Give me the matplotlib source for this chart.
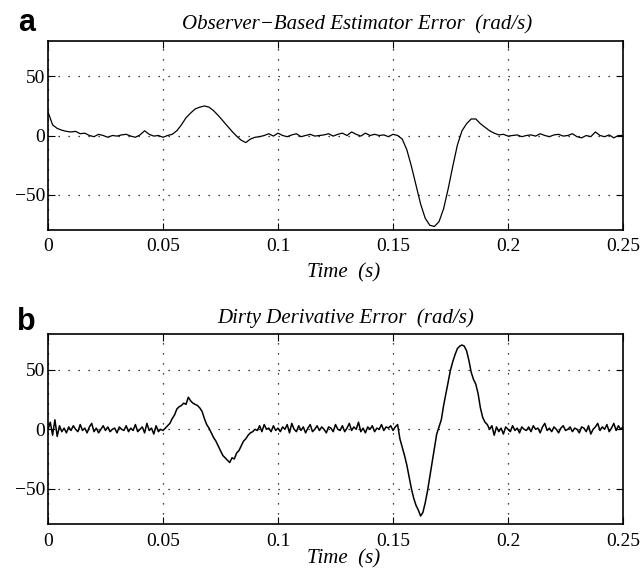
#!/usr/bin/env python3
"""
Estimator error comparison: observer-based estimator vs dirty derivative
"""
import numpy as np
import matplotlib
matplotlib.use('Agg')
import matplotlib.pyplot as plt

# Observer-based estimator error (rad/s), sampled every 2 ms from 0 to 0.25 s
obs_err = [
    20, 9, 6, 4.5, 3.5, 3, 3.5, 1.5, 2, 0,
    -1, 1, 0, -1.5, 0, -0.5, 0.5, 1, -0.5, -1.5,
    0.5, 4, 1, -0.5, 0, -1.5, 0, 1, 4, 9,
    15, 19, 22.5, 24, 25, 24, 21, 17, 12.5, 8,
    3.5, -0.5, -4, -6, -3, -1.5, -1, 0, 1.5, -0.5,
    2, 0, -1, 0.5, 1.5, -1, 0, 1, -0.5, 0,
    0.5, 1.5, -0.5, 1, 2, 0, 3, 1, -0.5, 2,
    0, 1, 0, 0.5, -1, 1, 0, -3, -12, -26,
    -42, -58, -70, -76, -77, -73, -62, -45, -26, -8,
    4, 10, 14, 14, 10, 7, 4, 2, 0.5, 1,
    -0.5, 0, 0.5, -1, 0, 0.5, -0.5, 1.5, 0, -1,
    0.5, 1, -0.5, 0, 1.5, -1, -2, 0, -1, 3,
    0, -1, 0.5, -2, 0, 0,
]

# Dirty derivative error (rad/s), sampled every 1 ms from 0 to 0.25 s
dirty_err = [
    0, 6, -5, 8, -6, 3, -2, 1, -3, 2,
    -1, 3, 0, -2, 4, -1, 1, -3, 2, 5,
    -2, 1, -3, 0, 3, -1, 2, -2, 0, 1,
    -3, 2, 0, -1, 3, -2, 1, -1, 4, -2,
    0, 2, -3, 5, -1, 1, -4, 3, -2, 0,
    -1, 1, 3, 5, 9, 12, 17, 19, 20, 22,
    21, 27, 24, 22, 21, 20, 18, 15, 9, 4,
    1, -3, -7, -10, -14, -18, -22, -24, -26, -28,
    -24, -25, -20, -18, -14, -10, -8, -5, -3, -2,
    0, -1, 3, -2, 4, 0, 1, -2, 3, -1,
    1, -2, 2, 0, 4, -3, 5, 0, -2, 3,
    -1, 2, -3, 1, 4, -2, 0, 3, -1, 2,
    0, -3, 2, 1, -2, 4, 0, -1, 3, -2,
    1, 5, -1, 2, 0, 6, -2, 1, -3, 2,
    0, 3, -2, 1, 0, 4, -1, 2, 1, 3,
    -1, 2, 4, -8, -15, -22, -30, -40, -50, -58,
    -64, -68, -73, -70, -62, -52, -40, -28, -16, -4,
    2, 8, 20, 30, 40, 50, 57, 63, 68, 70,
    71, 70, 66, 58, 48, 42, 38, 30, 18, 10,
    6, 4, 0, 3, -5, 2, -2, 1, -4, 2,
    0, -2, 3, -1, 1, -3, 2, 0, -1, 2,
    -2, 3, 0, 1, -3, 2, 5, -1, 1, -2,
    2, 0, -3, 1, 3, -1, 0, 2, -2, 1,
    0, -3, 2, 1, -2, 3, -4, 0, 2, 5,
    -1, 2, 0, 4, -2, 1, 5, -1, 3, 0,
    2,
]

t_obs = np.linspace(0, 0.25, len(obs_err))
t_dirty = np.linspace(0, 0.25, len(dirty_err))

x_ticks = [0, 0.05, 0.1, 0.15, 0.2, 0.25]
x_tick_labels = ['0', '0.05', '0.1', '0.15', '0.2', '0.25']
y_ticks = [-50, 0, 50]
y_tick_labels = ['\u221250', '0', '50']

titles = ['Observer\u2212Based Estimator Error  (rad/s)',
          'Dirty Derivative Error  (rad/s)']
panel_labels = ['a', 'b']

plt.rcParams['font.family'] = ['Liberation Serif', 'DejaVu Serif']

W, H = 641, 568
fig = plt.figure(figsize=(W / 100, H / 100), dpi=100)

# axes rectangles in pixels: left, top, right, bottom
rects_px = [(48, 41, 623, 230), (48, 334.3, 623, 524.3)]
title_pos = [(356.7, 29), (346, 323)]
xlabel_pos = [(344, 277), (344, 563.5)]
panel_pos = [(18, 31), (17, 330)]

series = [(t_obs, obs_err, 0.9), (t_dirty, dirty_err, 1.1)]

for i, (l, t, r, b) in enumerate(rects_px):
    ax = fig.add_axes([l / W, 1 - b / H, (r - l) / W, (b - t) / H])
    tt, yy, lw = series[i]
    ax.plot(tt, yy, color='k', linewidth=lw)

    ax.set_xlim(0, 0.25)
    ax.set_ylim(-80, 80)
    ax.set_xticks(x_ticks)
    ax.set_xticklabels(x_tick_labels)
    ax.set_yticks(y_ticks)
    ax.set_yticklabels(y_tick_labels)
    ax.tick_params(direction='in', length=5, width=0.8, top=True, right=True,
                   labelsize=14)
    ax.tick_params(axis='x', pad=6)
    ax.tick_params(axis='y', pad=2)
    ax.grid(True, color='k', linewidth=0.9, linestyle=(0, (1, 7)))
    for sp in ax.spines.values():
        sp.set_linewidth(1.2)

    tx, ty = title_pos[i]
    fig.text(tx / W, 1 - ty / H, titles[i], ha='center', va='baseline',
             fontsize=15, style='italic')
    lx, ly = xlabel_pos[i]
    fig.text(lx / W, 1 - ly / H, 'Time  (s)', ha='center', va='baseline',
             fontsize=15, style='italic')
    px, py = panel_pos[i]
    fig.text(px / W, 1 - py / H, panel_labels[i], ha='left', va='baseline',
             fontsize=22, fontweight='bold', family='Liberation Sans')

fig.savefig('out.png', dpi=100)
plt.close(fig)
